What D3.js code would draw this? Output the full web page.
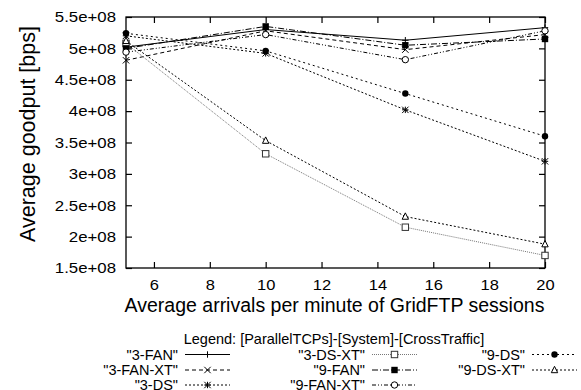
<!DOCTYPE html>
<html>
<head>
<meta charset="utf-8">
<script src="https://cdn.jsdelivr.net/npm/d3@7"></script>
<style>
  body { margin: 0; background: #fff; }
  text { font-family: "Liberation Sans", Arial, sans-serif; fill: #000; }
</style>
</head>
<body>
<script>
// data
const arrivals = [5, 10, 15, 20];
const names = ["3-FAN", "3-FAN-XT", "3-DS", "3-DS-XT", "9-FAN", "9-FAN-XT", "9-DS", "9-DS-XT"];
const fan3   = [5.02e8, 5.30e8, 5.13e8, 5.33e8];
const fan3xt = [4.81e8, 5.28e8, 4.98e8, 5.22e8];
const ds3    = [5.20e8, 4.92e8, 4.02e8, 3.20e8];
const ds3xt  = [5.08e8, 3.32e8, 2.15e8, 1.70e8];
const fan9   = [5.00e8, 5.35e8, 5.05e8, 5.15e8];
const fan9xt = [4.94e8, 5.22e8, 4.82e8, 5.28e8];
const ds9    = [5.24e8, 4.96e8, 4.28e8, 3.60e8];
const ds9xt  = [5.12e8, 3.53e8, 2.32e8, 1.88e8];
const allSeries = [fan3, fan3xt, ds3, ds3xt, fan9, fan9xt, ds9, ds9xt];
const xTicks = [6, 8, 10, 12, 14, 16, 18, 20];
const yTicks = [1.5e8, 2e8, 2.5e8, 3e8, 3.5e8, 4e8, 4.5e8, 5e8, 5.5e8];
const yTickLabels = ["1.5e+08", "2e+08", "2.5e+08", "3e+08", "3.5e+08", "4e+08", "4.5e+08", "5e+08", "5.5e+08"];

// line style per series (gnuplot monochrome look)
const dashes = [null, "4,3", "2,2", "1,1", "6,2,1,2", "4,2,1,2,1,2", "2,3", "2,2"];
const strokes = ["#000", "#000", "#000", "#777", "#000", "#000", "#000", "#000"];
const markers = ["plus", "cross", "star", "sq", "sqfill", "circ", "circfill", "tri"];

const W = 581, H = 390;
const L = 126, R = 545, T = 17, B = 268;

const svg = d3.select("body").append("svg")
  .attr("width", W).attr("height", H);

const x = d3.scaleLinear().domain([5, 20]).range([L, R]);
const y = d3.scaleLinear().domain([1.5e8, 5.5e8]).range([B, T]);

// frame
svg.append("rect").attr("x", L).attr("y", T).attr("width", R - L).attr("height", B - T)
  .attr("fill", "none").attr("stroke", "#000").attr("stroke-width", 1.3);

// axes with inward ticks, mirrored
const tk = 6;
svg.append("g").attr("class", "xb").attr("transform", `translate(0,${B})`)
  .call(d3.axisBottom(x).tickValues(xTicks).tickSize(-tk).tickPadding(11).tickFormat(d3.format("d")))
  .call(g => g.select(".domain").remove());
svg.append("g").attr("transform", `translate(0,${T})`)
  .call(d3.axisTop(x).tickValues(xTicks).tickSize(-tk).tickFormat(""))
  .call(g => g.select(".domain").remove());
svg.append("g").attr("class", "yl").attr("transform", `translate(${L},0)`)
  .call(d3.axisLeft(y).tickValues(yTicks).tickSize(-tk).tickPadding(10).tickFormat((d, i) => yTickLabels[i]))
  .call(g => g.select(".domain").remove());
svg.append("g").attr("transform", `translate(${R},0)`)
  .call(d3.axisRight(y).tickValues(yTicks).tickSize(-tk).tickFormat(""))
  .call(g => g.select(".domain").remove());

svg.selectAll(".tick line").attr("stroke", "#000").attr("stroke-width", 1.2);
svg.selectAll(".tick text").style("font-size", "15px").attr("fill", "#000")
  .style("font-family", "Liberation Sans, Arial, sans-serif");
// the reference glyphs are a bit wider than the font: stretch horizontally around the anchor
svg.selectAll(".yl .tick text").each(function () {
  const t = d3.select(this), ax = +t.attr("x");
  t.attr("transform", `translate(${ax},0) scale(1.12,1) translate(${-ax},0)`);
});
svg.selectAll(".xb .tick text").attr("transform", "scale(1.1,1)");

// axis titles
svg.append("text").attr("x", (L + R) / 2 - 1).attr("y", 312)
  .attr("text-anchor", "middle").style("font-size", "19.5px")
  .text("Average arrivals per minute of GridFTP sessions");
svg.append("text").attr("transform", `translate(35,134) rotate(-90)`)
  .attr("text-anchor", "middle").style("font-size", "21.5px")
  .text("Average goodput [bps]");

// marker drawing
function drawMarker(g, kind, cx, cy, col) {
  const s = 3.2;
  if (kind === "plus") {
    g.append("path").attr("d", `M${cx - s},${cy}H${cx + s}M${cx},${cy - s}V${cy + s}`).attr("stroke", col).attr("stroke-width", 1);
  } else if (kind === "cross") {
    g.append("path").attr("d", `M${cx - s},${cy - s}L${cx + s},${cy + s}M${cx - s},${cy + s}L${cx + s},${cy - s}`).attr("stroke", col).attr("stroke-width", 1);
  } else if (kind === "star") {
    g.append("path").attr("d", `M${cx - s},${cy}H${cx + s}M${cx},${cy - s}V${cy + s}M${cx - s},${cy - s}L${cx + s},${cy + s}M${cx - s},${cy + s}L${cx + s},${cy - s}`).attr("stroke", col).attr("stroke-width", 1);
  } else if (kind === "sq") {
    g.append("rect").attr("x", cx - s).attr("y", cy - s).attr("width", 2 * s).attr("height", 2 * s).attr("fill", "#fff").attr("stroke", "#333").attr("stroke-width", 1);
  } else if (kind === "sqfill") {
    g.append("rect").attr("x", cx - s).attr("y", cy - s).attr("width", 2 * s).attr("height", 2 * s).attr("fill", "#000");
  } else if (kind === "circ") {
    g.append("circle").attr("cx", cx).attr("cy", cy).attr("r", s).attr("fill", "#fff").attr("stroke", "#000").attr("stroke-width", 1);
  } else if (kind === "circfill") {
    g.append("circle").attr("cx", cx).attr("cy", cy).attr("r", s).attr("fill", "#000");
  } else if (kind === "tri") {
    g.append("path").attr("d", `M${cx},${cy - s - 0.5}L${cx + s},${cy + s - 0.5}L${cx - s},${cy + s - 0.5}Z`).attr("fill", "#fff").attr("stroke", "#000").attr("stroke-width", 1);
  }
}

const line = d3.line().x((d, i) => x(arrivals[i])).y(d => y(d));
const plot = svg.append("g");
allSeries.forEach((vals, k) => {
  plot.append("path").datum(vals).attr("d", line)
    .attr("fill", "none").attr("stroke", strokes[k]).attr("stroke-width", 1)
    .attr("stroke-dasharray", dashes[k]);
});
allSeries.forEach((vals, k) => {
  vals.forEach((v, i) => drawMarker(plot, markers[k], x(arrivals[i]), y(v), strokes[k] === "#777" ? "#333" : "#000"));
});

// legend
svg.append("text").attr("x", 334).attr("y", 343.5).attr("text-anchor", "middle")
  .style("font-size", "14.5px").text("Legend: [ParallelTCPs]-[System]-[CrossTraffic]");
const colEnds = [178, 365, 525];
const rowY = [359.5, 375, 390];
const leg = svg.append("g");
names.forEach((n, k) => {
  const c = Math.floor(k / 3), r = k % 3;
  const tx = colEnds[c], ty = rowY[r];
  leg.append("text").attr("x", tx).attr("y", ty).attr("text-anchor", "end")
    .style("font-size", "14.5px").text(`"${n}"`);
  const x0 = tx + 7, x1 = tx + 52, ly = ty - 5;
  leg.append("line").attr("x1", x0).attr("x2", x1).attr("y1", ly).attr("y2", ly)
    .attr("stroke", strokes[k]).attr("stroke-width", 1).attr("stroke-dasharray", dashes[k]);
  drawMarker(leg, markers[k], (x0 + x1) / 2, ly, "#000");
});
</script>
</body>
</html>
